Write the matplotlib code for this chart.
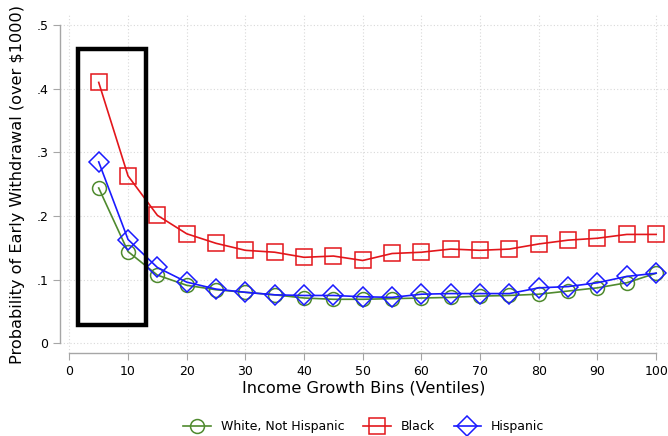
import matplotlib
matplotlib.use("Agg")
import matplotlib.pyplot as plt
from matplotlib.patches import Rectangle

# data
bins = [5, 10, 15, 20, 25, 30, 35, 40, 45, 50, 55, 60, 65, 70, 75, 80, 85, 90, 95, 100]
white = [0.244, 0.144, 0.107, 0.091, 0.084, 0.080, 0.076, 0.071, 0.069, 0.069,
         0.070, 0.071, 0.072, 0.074, 0.075, 0.077, 0.082, 0.087, 0.095, 0.110]
black = [0.410, 0.263, 0.201, 0.172, 0.157, 0.146, 0.143, 0.135, 0.137, 0.130,
         0.141, 0.143, 0.148, 0.146, 0.148, 0.156, 0.162, 0.165, 0.171, 0.171]
hispanic = [0.285, 0.163, 0.119, 0.096, 0.085, 0.080, 0.076, 0.075, 0.075, 0.073,
            0.072, 0.077, 0.078, 0.078, 0.078, 0.087, 0.089, 0.095, 0.105, 0.110]
xticks = list(range(0, 101, 10))
yticks = [0, 0.1, 0.2, 0.3, 0.4, 0.5]
ytick_labels = ["0", ".1", ".2", ".3", ".4", ".5"]

fig = plt.figure(figsize=(6.68, 4.36), dpi=100)
ax = fig.add_axes([0.0898, 0.190, 0.91, 0.7756])

grid_kw = dict(color="#d9d9d9", linestyle=(0, (1, 2)), linewidth=0.8, zorder=0)
for x in xticks:
    ax.axvline(x, **grid_kw)
for y in yticks:
    ax.axhline(y, **grid_kw)

ax.plot(bins, white, color="#4f8a2e", lw=1.2, marker="o", ms=10,
        mfc="none", mew=1.1, label="White, Not Hispanic", zorder=3)
ax.plot(bins, black, color="#e3161b", lw=1.2, marker="s", ms=11,
        mfc="none", mew=1.1, label="Black", zorder=3)
ax.plot(bins, hispanic, color="#1a1aff", lw=1.2, marker="D", ms=10,
        mfc="none", mew=1.1, label="Hispanic", zorder=4)

# highlight box
ax.add_patch(Rectangle((1.5, 0.028), 11.5, 0.434, fill=False,
                       edgecolor="black", linewidth=3.2, zorder=5))

ax.set_xlim(-1.6, 102)
ax.set_ylim(-0.0157, 0.516)
ax.set_xticks(xticks)
ax.set_yticks(yticks)
ax.set_yticklabels(ytick_labels)

for s in ["top", "right"]:
    ax.spines[s].set_visible(False)
ax.spines["left"].set_bounds(0, 0.5)
ax.spines["bottom"].set_bounds(0, 100)
for s in ["left", "bottom"]:
    ax.spines[s].set_color("#a6a6a6")
    ax.spines[s].set_linewidth(1.0)
ax.tick_params(colors="#a6a6a6", labelcolor="black", labelsize=9, length=5)

ax.set_xlabel("Income Growth Bins (Ventiles)", fontsize=11.6, labelpad=2)
ax.set_ylabel("Probability of Early Withdrawal (over \\$1000)", fontsize=11.6,
              labelpad=8)

ax.legend(loc="center", bbox_to_anchor=(0.5, -0.218), ncol=3,
          frameon=False, fontsize=9, handlelength=2.2, columnspacing=1.5)

fig.savefig("out.png", dpi=100)
